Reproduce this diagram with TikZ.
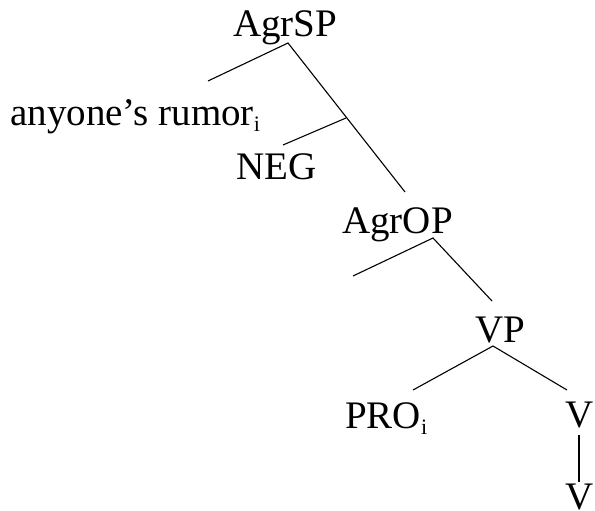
\documentclass[tikz,border=0pt]{standalone}
\usepackage{fontspec}
\setmainfont{Liberation Serif}
\newcommand\lsub[1]{\raisebox{-6pt}{\fontsize{22}{22}\selectfont #1}}
\begin{document}
\begin{tikzpicture}[x=1pt,y=-1pt,
  lbl/.style={anchor=base west, inner sep=0pt, font=\fontsize{39}{42}\selectfont},
  br/.style={line width=1.1pt}]
\useasboundingbox (0,0) rectangle (595,511);
\clip (0,0) rectangle (595,511);
% labels
\node[lbl] (agrsp) at (233,37) {AgrSP};
\node[lbl] (spec) at (10,125) {anyone’s rumor\lsub{i}};
\node[lbl] (neg) at (236,179) {NEG};
\node[lbl] (agrop) at (342,233) {AgrOP};
\node[lbl] (vp) at (475,342) {VP};
\node[lbl] (pro) at (345,428) {PRO\lsub{i}};
\node[lbl] (vbar) at (565,427) {V’};
\node[lbl] (v) at (565,509) {V};
% branch points
\coordinate (sA) at (288,43);
\coordinate (sL) at (208,81);
\coordinate (sR) at (405,192);
\coordinate (nJ) at (346,118);
\coordinate (nL) at (283,145);
\coordinate (oA) at (433,238);
\coordinate (oL) at (353,276);
\coordinate (oR) at (492,301);
\coordinate (vA) at (493,346);
\coordinate (vL) at (413,390);
\coordinate (vR) at (567,390);
\coordinate (bT) at (579,435);
\coordinate (bB) at (579,482);
% connectors
\draw[br] (sL) -- (sA) -- (sR);
\draw[br] (nL) -- (nJ);
\draw[br] (oL) -- (oA) -- (oR);
\draw[br] (vL) -- (vA) -- (vR);
\draw[br] (bT) -- (bB);
\end{tikzpicture}
\end{document}
